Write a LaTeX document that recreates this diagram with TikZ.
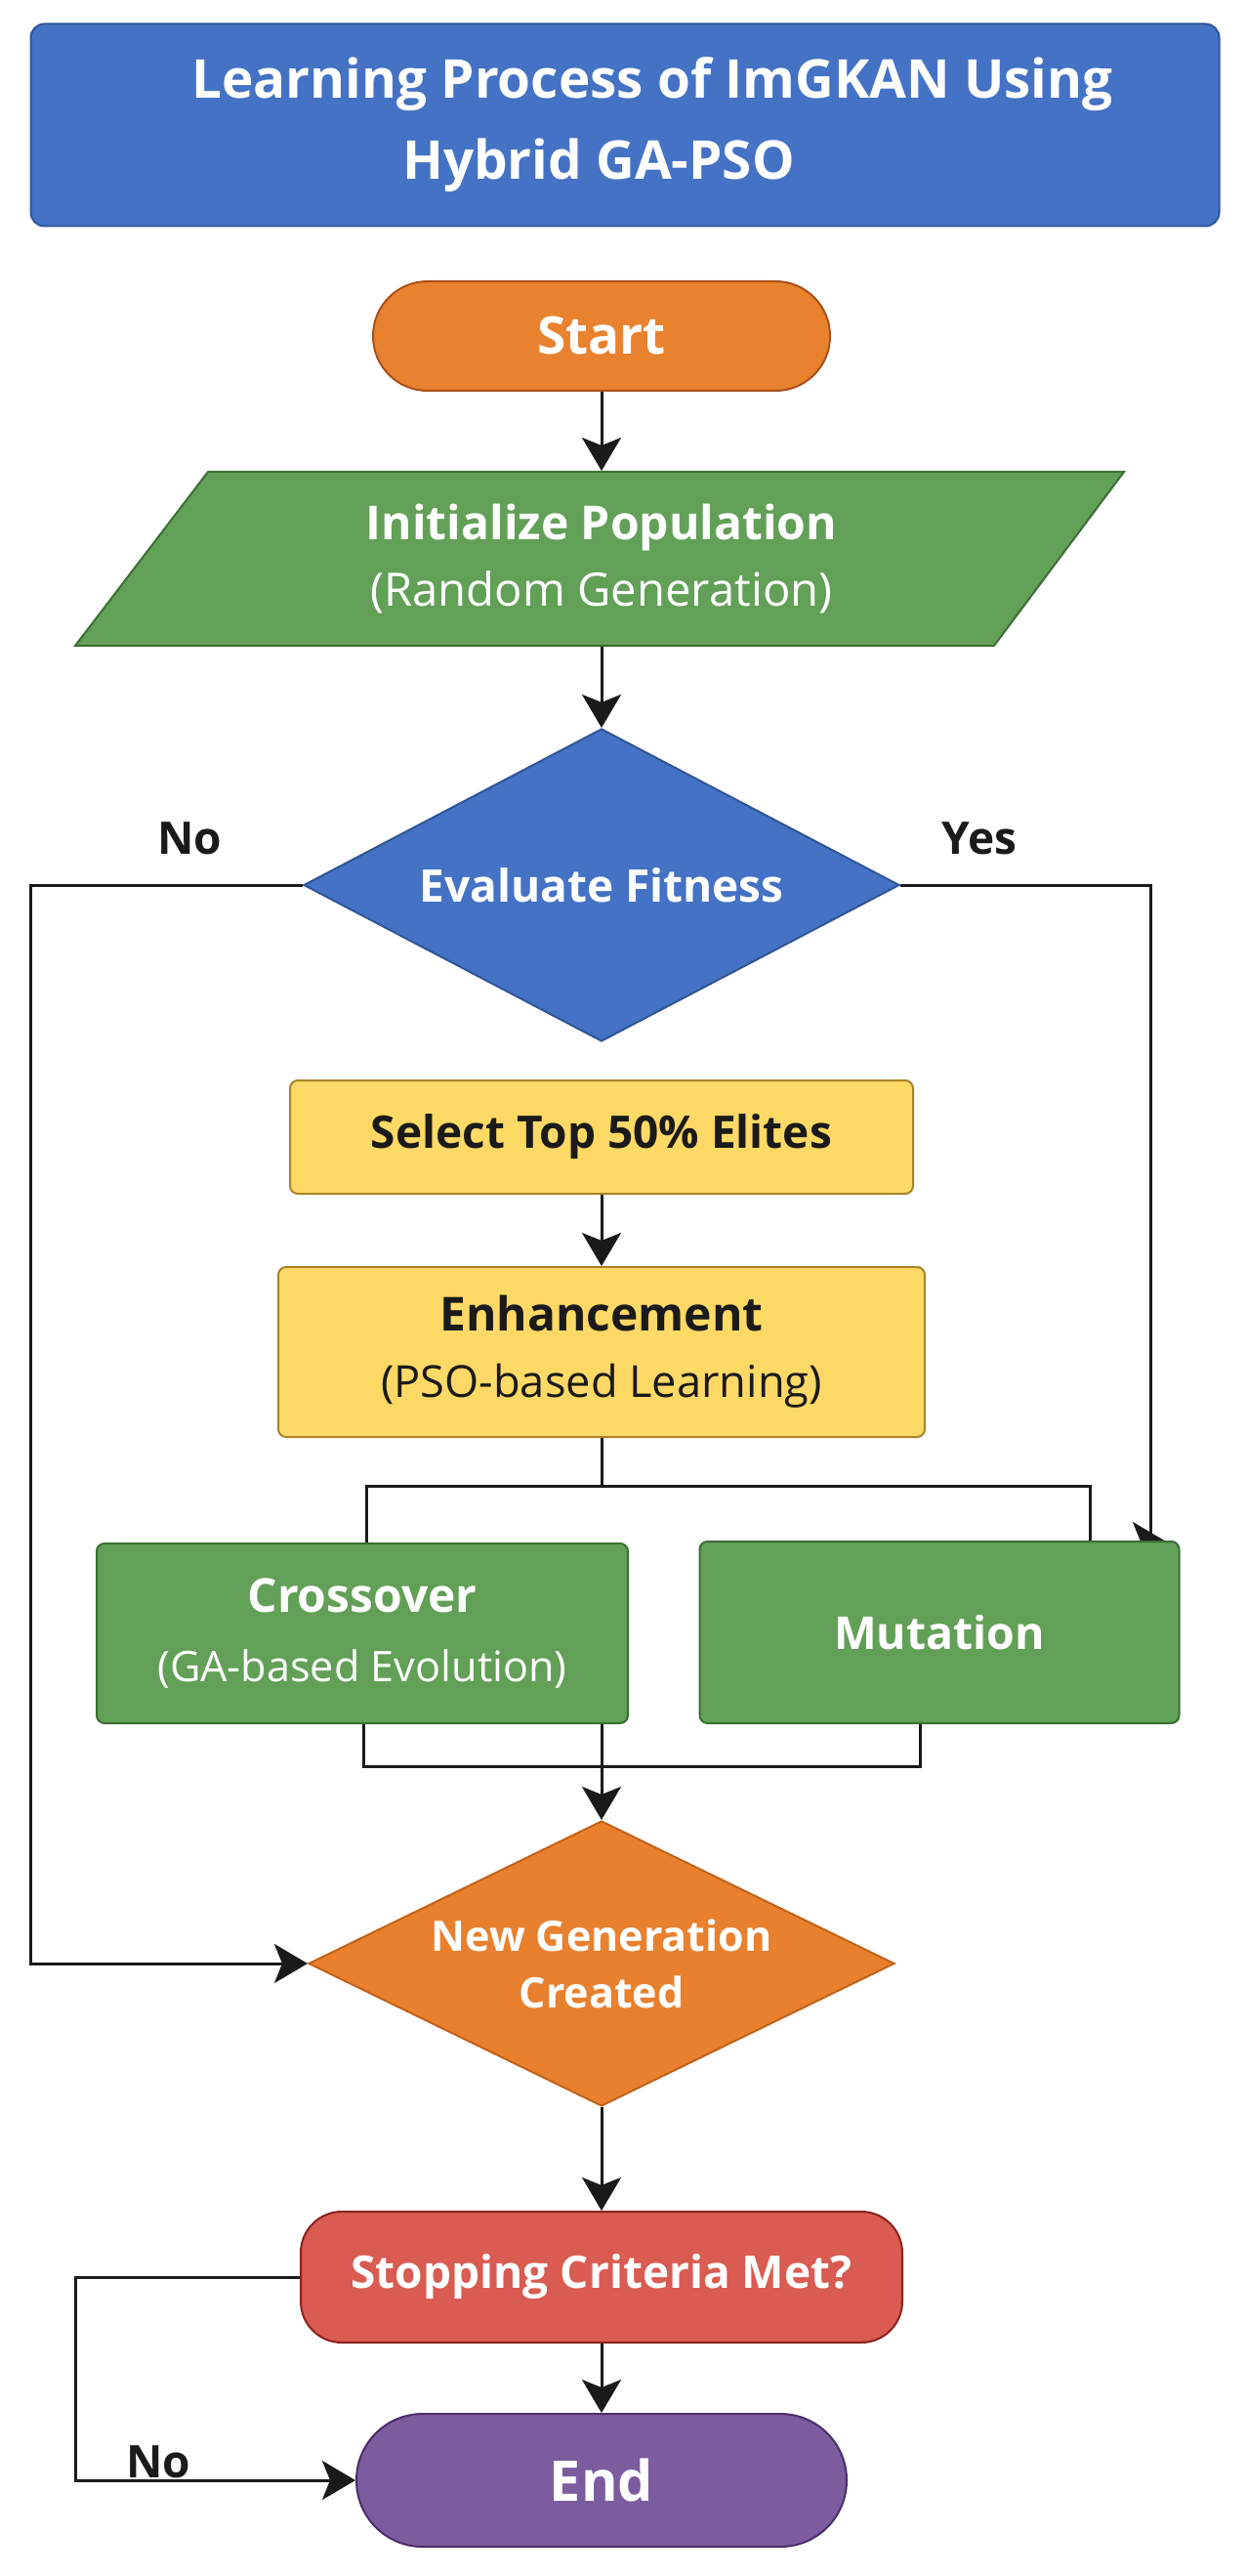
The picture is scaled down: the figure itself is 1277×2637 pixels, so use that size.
\documentclass[tikz,border=0pt]{standalone}
\usepackage{fontspec}
\setmainfont{Open Sans}
\usetikzlibrary{shapes.geometric,arrows.meta,backgrounds,calc}
\definecolor{tblue}{HTML}{4472C4}
\definecolor{tblueD}{HTML}{2F5597}
\definecolor{sorange}{HTML}{E8822F}
\definecolor{sorangeD}{HTML}{A8501A}
\definecolor{ggreen}{HTML}{62A057}
\definecolor{ggreenD}{HTML}{3B6E34}
\definecolor{yyellow}{HTML}{FFD966}
\definecolor{yyellowD}{HTML}{A88426}
\definecolor{rred}{HTML}{D95B51}
\definecolor{rredD}{HTML}{8A2320}
\definecolor{ppurple}{HTML}{7C5B9E}
\definecolor{ppurpleD}{HTML}{4A2E6A}
\definecolor{dorange}{HTML}{E8802E}
\definecolor{dorangeD}{HTML}{C26218}
\definecolor{ink}{HTML}{1A1A1A}
\begin{document}
\begin{tikzpicture}[x=0.5pt,y=-0.5pt,
  conn/.style={line width=1.5pt,draw=ink},
  arr/.style={conn,-{Stealth[length=17pt,width=20pt,inset=4pt]}},
  shapebox/.style={line width=1pt,inner sep=0pt,align=center,text=white,
    font=\fontsize{24}{34}\selectfont},
  rbox/.style={shapebox,rectangle,rounded corners=4pt},
  lbl/.style={inner sep=0pt,text=ink,font=\bfseries\fontsize{23}{28}\selectfont}
]
\useasboundingbox (0,0) rectangle (1277,2637);

% title
\node[shapebox,rectangle,rounded corners=7pt,fill=tblue,draw=tblueD,
  minimum width=608.5pt,minimum height=103.5pt,
  font=\bfseries\fontsize{27.4}{41.5}\selectfont] (title) at (640,128)
  {\hspace*{28pt}Learning Process of ImGKAN Using\\Hybrid GA-PSO\hspace*{27pt}};

% start
\node[shapebox,rectangle,rounded corners=27.9pt,fill=sorange,draw=sorangeD,
  minimum width=234pt,minimum height=56pt,
  font=\bfseries\fontsize{26.6}{32}\selectfont] (start) at (616,344) {Start};

% initialize (parallelogram)
\draw[line width=1pt,fill=ggreen,draw=ggreenD]
  (213,483) -- (1151,483) -- (1018,661) -- (77,661) -- cycle;
\node[shapebox,rectangle,minimum height=89pt] (init) at (616,572)
  {\textbf{Initialize Population}\\{\fontsize{23.6}{34}\selectfont(Random Generation)}};

% evaluate fitness
\node[shapebox,diamond,shape aspect=1.9,fill=tblue,draw=tblueD,
  minimum width=305pt,minimum height=160pt,
  font=\bfseries\fontsize{23}{28}\selectfont] (eval) at (616,906) {Evaluate Fitness};

% select
\node[rbox,fill=yyellow,draw=yyellowD,text=ink,minimum width=319pt,minimum height=58pt,
  font=\bfseries\fontsize{23}{34}\selectfont] (select) at (616,1164) {Select Top 50\% Elites};

% enhancement
\node[rbox,fill=yyellow,draw=yyellowD,text=ink,minimum width=331pt,minimum height=87pt]
  (enh) at (616,1384) {\textbf{Enhancement}\\{\fontsize{22.6}{34}\selectfont(PSO-based Learning)}};

% crossover, mutation
\node[rbox,fill=ggreen,draw=ggreenD,minimum width=272pt,minimum height=92pt,
  font=\fontsize{24}{35.5}\selectfont]
  (cross) at (371,1672) {\textbf{Crossover}\\{\fontsize{21.6}{35.5}\selectfont(GA-based Evolution)}};
\node[rbox,fill=ggreen,draw=ggreenD,minimum width=245.5pt,minimum height=93pt,
  font=\bfseries\fontsize{23.2}{34}\selectfont]
  (mut) at (962,1671) {Mutation};

% new generation
\node[shapebox,diamond,shape aspect=2.05,fill=dorange,draw=dorangeD,
  minimum width=300pt,minimum height=146pt,
  font=\bfseries\fontsize{21.5}{29}\selectfont] (gen) at (616,2010) {New Generation\\Created};

% stopping
\node[shapebox,rectangle,rounded corners=21pt,fill=rred,draw=rredD,
  minimum width=308pt,minimum height=67pt,
  font=\bfseries\fontsize{23}{28}\selectfont] (stop) at (616,2331) {Stopping Criteria Met?};

% end
\node[shapebox,rectangle,rounded corners=33.9pt,fill=ppurple,draw=ppurpleD,
  minimum width=251pt,minimum height=68pt,
  font=\bfseries\fontsize{28.7}{34}\selectfont] (end) at (616,2539) {End};

% labels
\node[lbl,anchor=base] (lno) at (194,874) {No};
\node[lbl,anchor=base] (lyes) at (1003,874) {Yes};
\node[lbl,anchor=base] (lno2) at (162,2536) {No};

% helper coordinates
\coordinate (noL) at (31,1400);
\coordinate (yesR) at (1178,1200);
\coordinate (yesEnd) at (1194,1578);
\coordinate (split) at (616,1521);
\coordinate (brL) at (375,1521);
\coordinate (brR) at (1116,1521);
\coordinate (mgL) at (372,1808);
\coordinate (mgR) at (942,1808);
\coordinate (stopL) at (77,2440);

\begin{scope}[on background layer]
  \fill[white] (0,0) rectangle (1277,2637);
  \draw[arr] (start.south) -- (init.north);
  \draw[arr] (init.south) -- (eval.north);
  \draw[arr] (eval.west) -| (noL) |- (gen.west);
  \draw[arr] (eval.east) -| (yesR) |- (yesEnd);
  \draw[arr] (select.south) -- (enh.north);
  \draw[conn] (enh.south) -- (split);
  \draw[conn] (cross.north -| brL) -- (brL) -- (brR) -- (mut.north -| brR);
  \draw[conn] (cross.south -| mgL) -- (mgL) -- (mgR) -- (mut.south -| mgR);
  \draw[arr] (cross.south -| gen.north) -- (gen.north);
  \draw[arr] (gen.south) -- (stop.north);
  \draw[arr] (stop.south) -- (end.north);
  \draw[arr] (stop.west) -| (stopL) |- (end.west);
\end{scope}
\end{tikzpicture}
\end{document}
